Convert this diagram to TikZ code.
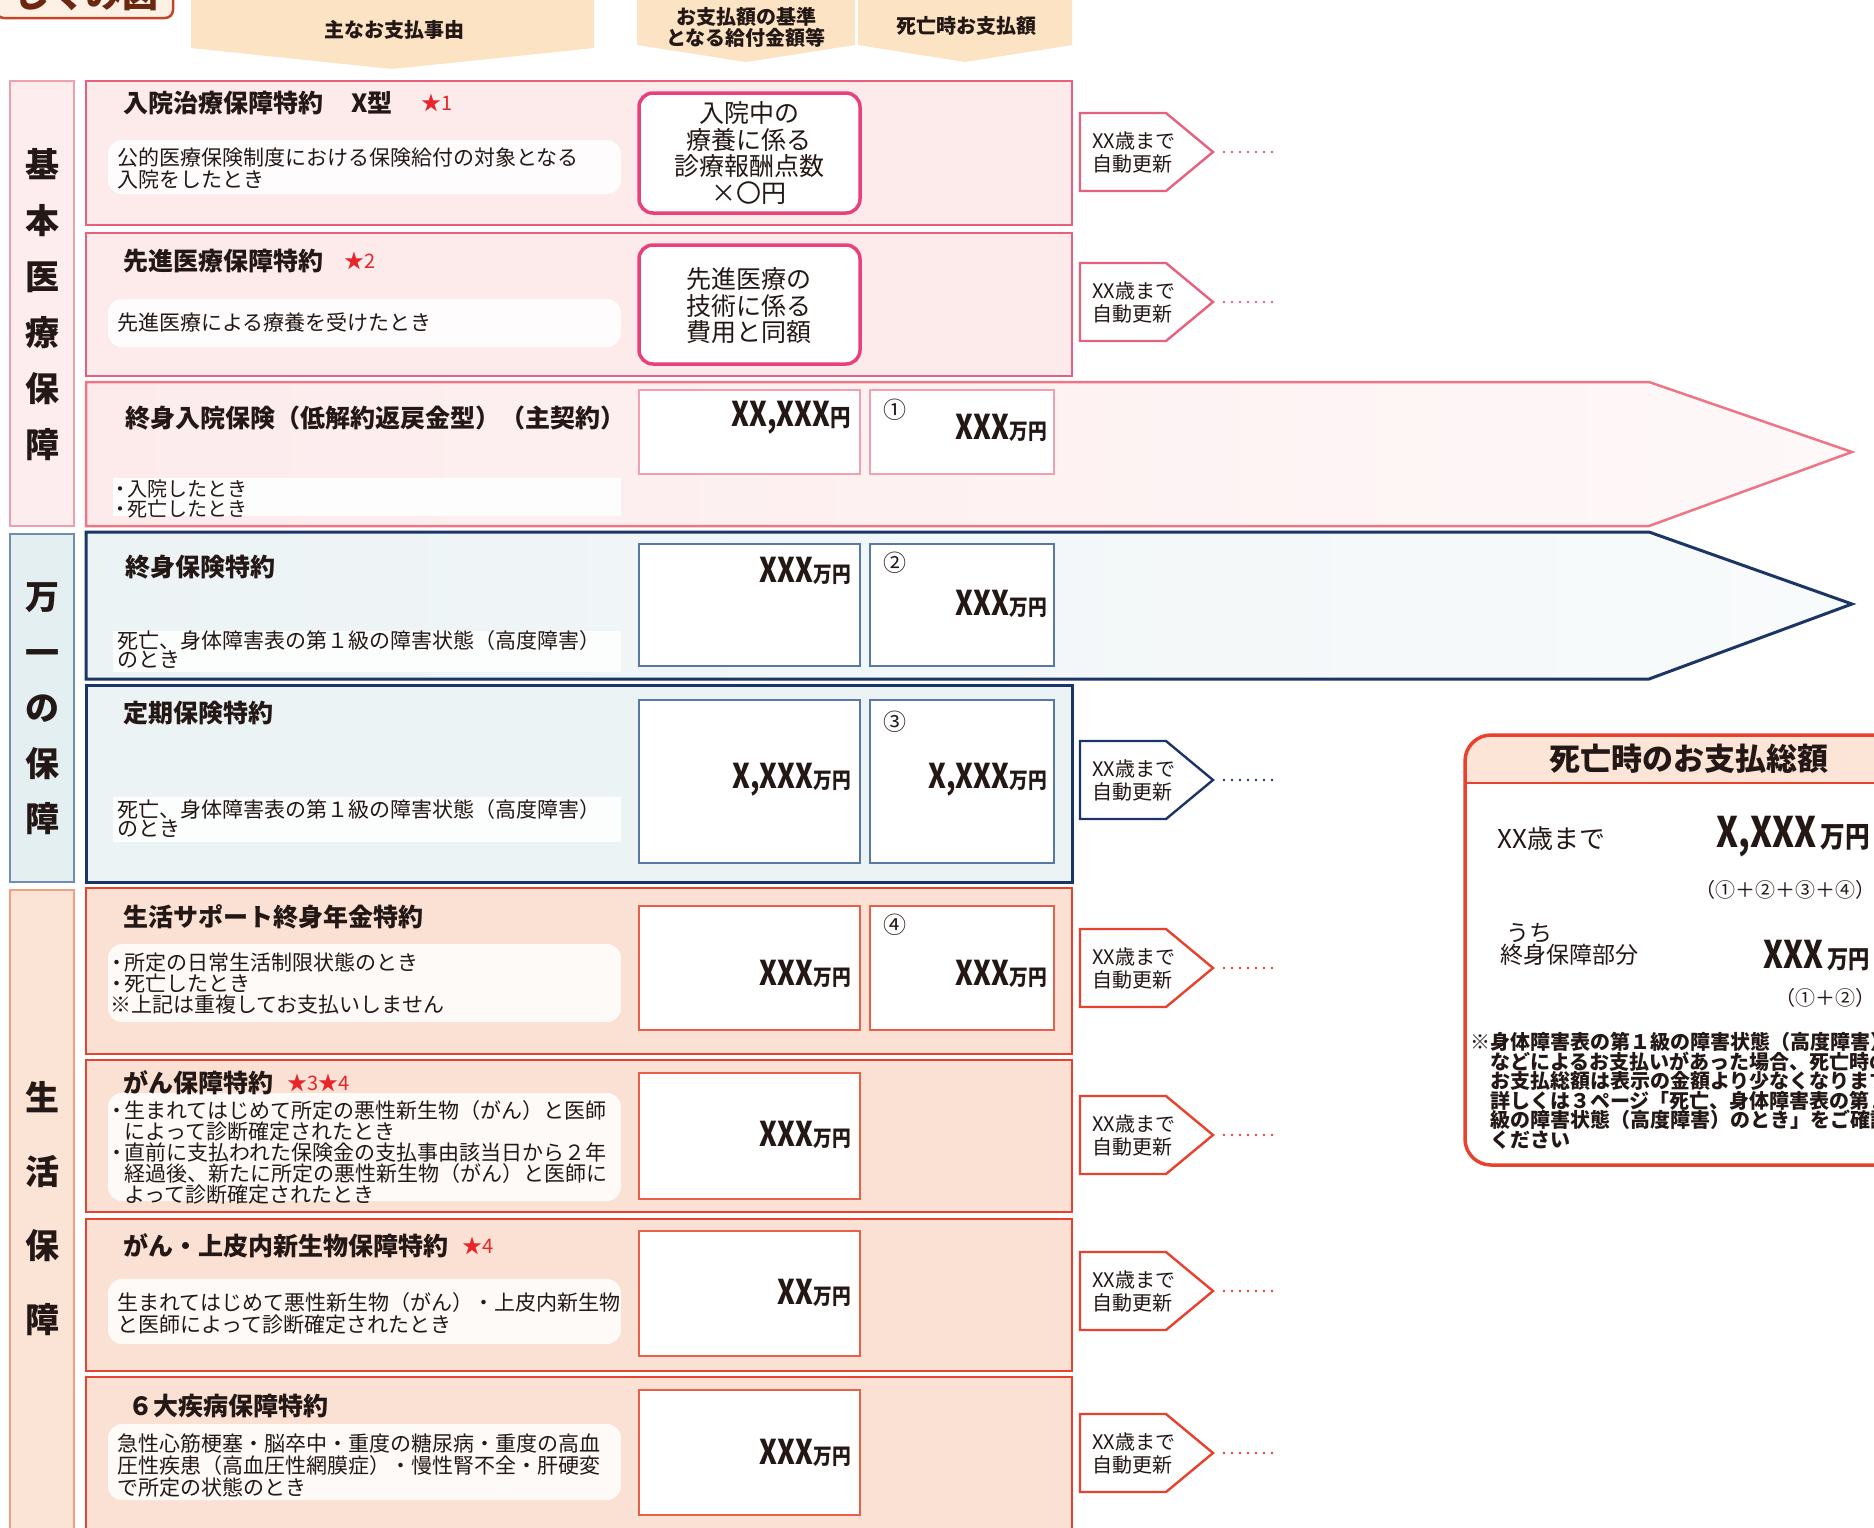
\documentclass[tikz,border=0pt]{standalone}
\usepackage{fontspec}
\setmainfont{Noto Sans CJK JP}
\usepackage{graphicx}
\definecolor{pinkfill}{HTML}{FDEBEC}
\definecolor{pinkline}{HTML}{E9607F}
\definecolor{boxpink}{HTML}{E8407A}
\definecolor{arrowpink}{HTML}{EE7585}
\definecolor{lpinkline}{HTML}{F2A0B0}
\definecolor{navy}{HTML}{1B3566}
\definecolor{bluefill}{HTML}{ECF3F5}
\definecolor{bluebox}{HTML}{5878A8}
\definecolor{peach}{HTML}{FBE1D3}
\definecolor{redline}{HTML}{E8412E}
\definecolor{redbox}{HTML}{E8604A}
\definecolor{catpink}{HTML}{FDEDEF}
\definecolor{catpinkline}{HTML}{EFA0AE}
\definecolor{catblue}{HTML}{E4EFF2}
\definecolor{catblueline}{HTML}{6E8FAE}
\definecolor{catpeach}{HTML}{FBE3D6}
\definecolor{catpeachline}{HTML}{F0A080}
\definecolor{beige}{HTML}{FBE3C3}
\definecolor{txt}{HTML}{231815}
\definecolor{starred}{HTML}{E8252A}
\definecolor{brownline}{HTML}{C4462A}
\definecolor{brownfill}{HTML}{FDF1E6}
\definecolor{browntxt}{HTML}{6A2810}
\definecolor{sumhead}{HTML}{FCE5D6}
\newcommand\fs[2]{\fontsize{#1}{#2}\selectfont}
\newcommand\bul{\makebox[14pt][c]{・}}
\newcommand\bignum[4]{\scalebox{0.8}[1]{\fs{#2}{#2}\bfseries #1}\scalebox{0.85}[1]{\fs{#4}{#4}\bfseries #3}}
\newcommand\autoren[3]{%
  \draw[#2, line width=2.4pt, fill=white, line join=miter] (1080,#1-39) -- (1166,#1-39) -- (1213,#1) -- (1166,#1+39) -- (1080,#1+39) -- cycle;
  \node[rentext] (#3) at (1092,#1) {XX歳まで\\自動更新};
  \coordinate (#3tip) at (1224,#1);
  \coordinate (#3end) at (1276,#1);
  \draw[#2, line width=2.6pt, line cap=round, dash pattern=on 0pt off 8pt] (#3tip) -- (#3end);
}
\tikzset{
  ttl/.style={anchor=west, inner sep=0pt, font=\fs{25}{27}\bfseries, text=txt},
  desc/.style={anchor=west, inner sep=0pt, align=left, font=\fs{21}{22}, text=txt},
  starlbl/.style={anchor=west, inner sep=0pt, font=\fs{20}{22}, text=starred},
  num/.style={anchor=east, inner sep=0pt, text=txt},
  circ/.style={anchor=west, inner sep=0pt, font=\fs{23}{23}, text=txt},
  cat/.style={inner sep=0pt, align=center, font=\fs{34}{56}\bfseries, text=txt},
  hdr/.style={inner sep=0pt, align=center, font=\fs{20}{21}\bfseries, text=txt},
  rentext/.style={anchor=west, inner sep=0pt, align=left, font=\fs{20}{23}, text=txt},
  valtext/.style={inner sep=0pt, align=center, font=\fs{25}{26.5}, text=txt},
  bubble/.style={fill=white, fill opacity=0.85, rounded corners=14pt, draw=none},
}
\begin{document}
\begin{tikzpicture}[x=1pt,y=-1pt]
\useasboundingbox (0,0) rectangle (1874,1527);
\clip (0,0) rectangle (1874,1527);
\fill[white] (0,0) rectangle (1874,1527);

% title tab
\draw[brownline, line width=2.5pt, fill=brownfill, rounded corners=8pt] (-4,-40) rectangle (173,18);
\node[font=\fs{36}{36}\bfseries, text=browntxt, inner sep=0pt] (shikumi) at (86,-6) {しくみ図};

% headers
\fill[beige] (191,0) -- (594,0) -- (594,48) -- (392,69) -- (191,48) -- cycle;
\node[hdr] (h1) at (394,30) {主なお支払事由};
\fill[beige] (637,0) -- (855,0) -- (855,45) -- (746,62) -- (637,45) -- cycle;
\node[hdr] (h2) at (746,27) {お支払額の基準\\となる給付金額等};
\fill[beige] (858,0) -- (1072,0) -- (1072,45) -- (965,62) -- (858,45) -- cycle;
\node[hdr] (h3) at (966,26) {死亡時お支払額};

% category columns
\draw[catpinkline, line width=1.5pt, fill=catpink] (10,81) rectangle (74,526);
\node[cat] (c1) at (42,305) {基\\本\\医\\療\\保\\障};
\draw[catblueline, line width=1.5pt, fill=catblue] (10,534) rectangle (74,882);
\node[cat, font=\fs{34}{55.5}\bfseries] (c2) at (42,709) {万\\一\\の\\保\\障};
\draw[catpeachline, line width=1.5pt, fill=catpeach] (10,890) rectangle (74,1540);
\node[cat, font=\fs{34}{74}\bfseries] (c3) at (42,1209) {生\\活\\保\\障};

% ---------- row 1
\draw[pinkline, line width=2.5pt, fill=pinkfill] (86,81) rectangle (1072,225);
\fill[bubble] (108,140) rectangle (621,194);
\node[ttl] (t1) at (123,103) {入院治療保障特約\hspace{28pt}X型};
\node[starlbl] (s1) at (421,103) {★1};
\node[desc] (d1) at (117,168) {公的医療保険制度における保険給付の対象となる\\入院をしたとき};
\draw[boxpink, line width=3.5pt, fill=white, rounded corners=14pt] (639,93) rectangle (860,213);
\node[valtext] (v1) at (749,153) {入院中の\\療養に係る\\診療報酬点数\\×〇円};
\autoren{152}{pinkline}{a1}

% ---------- row 2
\draw[pinkline, line width=2.5pt, fill=pinkfill] (86,233) rectangle (1072,376);
\fill[bubble] (108,299) rectangle (621,347);
\node[ttl] (t2) at (123,261) {先進医療保障特約};
\node[starlbl] (s2) at (344,261) {★2};
\node[desc] (d2) at (117,323) {先進医療による療養を受けたとき};
\draw[boxpink, line width=3.5pt, fill=white, rounded corners=14pt] (639,245) rectangle (860,364);
\node[valtext] (v2) at (749,306) {先進医療の\\技術に係る\\費用と同額};
\autoren{302}{pinkline}{a2}

% ---------- row 3 (arrow)
\path[draw=arrowpink, line width=2.5pt, left color=pinkfill, right color=pinkfill!35, line join=miter]
  (86,382) -- (1649,382) -- (1852,452) -- (1649,526) -- (86,526) -- cycle;
\fill[white, fill opacity=0.9] (113,478) rectangle (621,516);
\node[ttl] (t3) at (125,418) {終身入院保険（低解約返戻金型）（主契約）};
\node[desc, font=\fs{20}{18}] (d3) at (113,499) {\bul 入院したとき\\\bul 死亡したとき};
\draw[lpinkline, line width=1.5pt, fill=white] (639,390) rectangle (860,474);
\draw[lpinkline, line width=1.5pt, fill=white] (870,390) rectangle (1054,474);
\node[num] (n3a) at (851,418) {\bignum{XX,XXX}{34}{円}{24}};
\node[circ] (o1) at (883,410) {①};
\node[num] (n3b) at (1047,428) {\bignum{XXX}{34}{万円}{22}};

% ---------- row 4 (arrow)
\path[draw=navy, line width=3pt, left color=bluefill, right color=bluefill!35, line join=miter]
  (86,532) -- (1649,532) -- (1852,604) -- (1649,679) -- (86,679) -- cycle;
\fill[white, fill opacity=0.85] (113,631) rectangle (621,672);
\node[ttl] (t4) at (125,567) {終身保険特約};
\node[desc, font=\fs{21}{19}] (d4) at (117,650) {死亡、身体障害表の第１級の障害状態（高度障害）\\のとき};
\draw[bluebox, line width=1.5pt, fill=white] (639,544) rectangle (860,666);
\draw[bluebox, line width=1.5pt, fill=white] (870,544) rectangle (1054,666);
\node[num] (n4a) at (851,571) {\bignum{XXX}{34}{万円}{22}};
\node[circ] (o2) at (883,563) {②};
\node[num] (n4b) at (1047,604) {\bignum{XXX}{34}{万円}{22}};

% ---------- row 5
\draw[navy, line width=3pt, fill=bluefill] (86,685) rectangle (1072,882);
\fill[white, fill opacity=0.85] (113,797) rectangle (621,842);
\node[ttl] (t5) at (123,713) {定期保険特約};
\node[desc, font=\fs{21}{19}] (d5) at (117,819) {死亡、身体障害表の第１級の障害状態（高度障害）\\のとき};
\draw[bluebox, line width=1.5pt, fill=white] (639,700) rectangle (860,863);
\draw[bluebox, line width=1.5pt, fill=white] (870,700) rectangle (1054,863);
\node[num] (n5a) at (851,780) {\bignum{X,XXX}{34}{万円}{22}};
\node[circ] (o3) at (883,722) {③};
\node[num] (n5b) at (1047,780) {\bignum{X,XXX}{34}{万円}{22}};
\autoren{780}{navy}{a5}

% ---------- row 6
\draw[redline, line width=2.5pt, fill=peach] (86,888) rectangle (1072,1054);
\fill[bubble] (108,944) rectangle (621,1022);
\node[ttl] (t6) at (123,917) {生活サポート終身年金特約};
\node[desc, font=\fs{21}{21}] (d6) at (110,983) {\bul 所定の日常生活制限状態のとき\\\bul 死亡したとき\\※上記は重複してお支払いしません};
\draw[redbox, line width=1.5pt, fill=white] (639,906) rectangle (860,1030);
\draw[redbox, line width=1.5pt, fill=white] (870,906) rectangle (1054,1030);
\node[num] (n6a) at (851,974) {\bignum{XXX}{34}{万円}{22}};
\node[circ] (o4) at (883,925) {④};
\node[num] (n6b) at (1047,974) {\bignum{XXX}{34}{万円}{22}};
\autoren{968}{redline}{a6}

% ---------- row 7
\draw[redline, line width=2.5pt, fill=peach] (86,1060) rectangle (1072,1212);
\fill[bubble] (108,1093) rectangle (621,1201);
\node[ttl] (t7) at (123,1083) {がん保障特約};
\node[starlbl] (s7) at (287,1083) {★3★4};
\node[desc, font=\fs{21}{21}] (d7) at (110,1152) {\bul 生まれてはじめて所定の悪性新生物（がん）と医師\\\hphantom{\bul}によって診断確定されたとき\\\bul 直前に支払われた保険金の支払事由該当日から２年\\\hphantom{\bul}経過後、新たに所定の悪性新生物（がん）と医師に\\\hphantom{\bul}よって診断確定されたとき};
\draw[redbox, line width=1.5pt, fill=white] (639,1073) rectangle (860,1199);
\node[num] (n7a) at (851,1135) {\bignum{XXX}{34}{万円}{22}};
\autoren{1135}{redline}{a7}

% ---------- row 8
\draw[redline, line width=2.5pt, fill=peach] (86,1219) rectangle (1072,1371);
\fill[bubble] (108,1279) rectangle (621,1344);
\node[ttl] (t8) at (123,1246) {がん・上皮内新生物保障特約};
\node[starlbl] (s8) at (462,1246) {★4};
\node[desc] (d8) at (117,1313) {生まれてはじめて悪性新生物（がん）・上皮内新生物\\と医師によって診断確定されたとき};
\draw[redbox, line width=1.5pt, fill=white] (639,1231) rectangle (860,1356);
\node[num] (n8a) at (851,1293) {\bignum{XX}{34}{万円}{22}};
\autoren{1291}{redline}{a8}

% ---------- row 9
\draw[redline, line width=2.5pt, fill=peach] (86,1377) rectangle (1072,1545);
\fill[bubble] (108,1424) rectangle (621,1500);
\node[ttl] (t9) at (128,1406) {６大疾病保障特約};
\node[desc] (d9) at (117,1466) {急性心筋梗塞・脳卒中・重度の糖尿病・重度の高血\\圧性疾患（高血圧性網膜症）・慢性腎不全・肝硬変\\で所定の状態のとき};
\draw[redbox, line width=1.5pt, fill=white] (639,1390) rectangle (860,1515);
\node[num] (n9a) at (851,1453) {\bignum{XXX}{34}{万円}{22}};
\autoren{1453}{redline}{a9}

% ---------- summary box
\fill[white, rounded corners=26pt] (1465,735) rectangle (1910,1165);
\fill[sumhead] (1465,783) {[rounded corners=26pt] -- (1465,735) -- (1910,735)} -- (1910,783) -- cycle;
\draw[redline, line width=2pt] (1465,783) -- (1910,783);
\draw[redline, line width=3.5pt, rounded corners=26pt] (1465,735) rectangle (1910,1165);
\node[font=\fs{31}{31}\bfseries, text=txt, inner sep=0pt] (sh) at (1689,759) {死亡時のお支払総額};
\node[anchor=west, inner sep=0pt, font=\fs{26}{26}, text=txt] (sa) at (1497,839) {XX歳まで};
\node[num] (sb) at (1870,837) {\bignum{X,XXX}{42}{\,万円}{29}};
\node[anchor=east, inner sep=0pt, font=\fs{20}{20}, text=txt] (sc) at (1876,890) {（①＋②＋③＋④）};
\node[anchor=west, inner sep=0pt, align=left, font=\fs{23}{22}, text=txt] (sd) at (1500,944) {\hspace{6pt}うち\\終身保障部分};
\node[num] (se) at (1870,956) {\bignum{XXX}{38}{\,万円}{25}};
\node[anchor=east, inner sep=0pt, font=\fs{20}{20}, text=txt] (sf) at (1876,998) {（①＋②）};
\node[anchor=north west, inner sep=0pt, align=left, font=\fs{20}{19.6}\bfseries, text=txt] (sg) at (1470,1032)
 {※身体障害表の第１級の障害状態（高度障害）\\\hphantom{※}などによるお支払いがあった場合、死亡時の\\\hphantom{※}お支払総額は表示の金額より少なくなります。\\\hphantom{※}詳しくは３ページ「死亡、身体障害表の第１\\\hphantom{※}級の障害状態（高度障害）のとき」をご確認\\\hphantom{※}ください};
\end{tikzpicture}
\end{document}
